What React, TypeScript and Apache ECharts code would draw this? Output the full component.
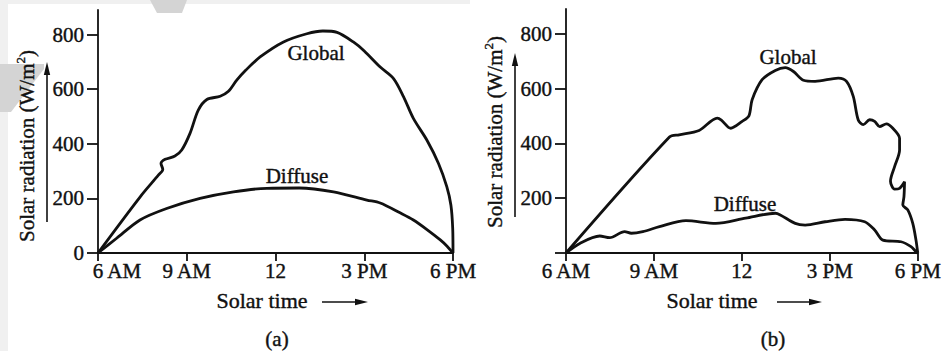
import React, { useEffect, useRef } from "react";
import * as echarts from "echarts";

// ---- data (hours of solar time, W/m²) ----
const tickHours = [6, 9, 12, 15, 18];
const tickLabels = ["6 AM", "9 AM", "12", "3 PM", "6 PM"];
const yTickValues = [0, 200, 400, 600, 800];
const yLabelValuesA = [0, 200, 400, 600, 800];
const yLabelValuesB = [200, 400, 600, 800];

const globalA = [
  [6, 0], [7.42, 205], [8.04, 285], [8.19, 306], [8.13, 328], [8.27, 343], [8.6, 355],
  [8.83, 377], [9.11, 438], [9.39, 523], [9.68, 562], [10.13, 574], [10.41, 592],
  [10.69, 633], [11.0, 670], [11.48, 718], [12.27, 773], [13.06, 803], [13.6, 813],
  [14.08, 808], [14.63, 773], [15.0, 740], [15.54, 681], [15.99, 639], [16.33, 572],
  [16.66, 493], [17.12, 413], [17.51, 328], [17.79, 243], [17.93, 175], [17.99, 90], [18, 0],
];
const diffuseA = [
  [6, 0], [6.63, 54], [7.42, 121], [8.32, 163], [9.45, 200], [10.58, 224], [11.71, 237],
  [12.8, 238], [13.96, 224], [15.09, 194], [15.54, 183], [16.21, 147], [16.66, 121],
  [17.12, 86], [17.57, 48], [17.8, 25], [18, 0],
];
const globalB = [
  [6, 0], [9.53, 423], [9.86, 431], [10.54, 447], [11.16, 492], [11.3, 485], [11.62, 455],
  [12.01, 480], [12.24, 500], [12.35, 559], [12.69, 632], [13.14, 666], [13.48, 676],
  [13.76, 662], [14.1, 630], [14.5, 626], [15.29, 638], [15.57, 626], [15.8, 571],
  [15.97, 485], [16.14, 468], [16.36, 486], [16.53, 480], [16.7, 461], [16.93, 471],
  [17.15, 455], [17.38, 419], [17.38, 376], [17.21, 315], [17.07, 262], [17.21, 233],
  [17.38, 236], [17.55, 260], [17.53, 206], [17.49, 175], [17.66, 157], [17.83, 108],
  [17.94, 47], [18, 0],
];
const diffuseB = [
  [6, 0], [6.47, 35], [7.15, 62], [7.49, 56], [8.0, 78], [8.23, 72], [8.62, 78],
  [9.19, 96], [10.09, 118], [11.11, 108], [12.13, 127], [13.14, 145], [13.31, 139],
  [13.82, 108], [14.16, 102], [14.84, 114], [15.52, 123], [16.19, 114], [16.53, 84],
  [16.81, 47], [17.43, 41], [17.77, 23], [17.94, 5], [18, 0],
];

const FONT = "'Liberation Serif', 'Times New Roman', serif";
const BLACK = "#111";
const INK = { textBorderColor: BLACK, textBorderWidth: 0.4 };

function fmtHour(v: number, shiftFirst: boolean) {
  const i = tickHours.indexOf(v);
  if (i < 0) return "";
  if (shiftFirst && i === 0) return "{first|" + tickLabels[i] + "}";
  return tickLabels[i];
}

function xAxis(gridIndex: number, shiftFirst: boolean) {
  return {
    gridIndex,
    type: "value",
    min: 6,
    max: 18,
    interval: 3,
    axisLine: { show: true, onZero: false, lineStyle: { color: BLACK, width: 1.8 } },
    axisTick: { show: true, length: 8, lineStyle: { color: BLACK, width: 1.8 } },
    axisLabel: {
      formatter: (v: number) => fmtHour(v, shiftFirst),
      color: BLACK,
      fontSize: 21,
      fontFamily: FONT,
      margin: 7,
      showMinLabel: true,
      showMaxLabel: true,
      ...INK,
      rich: {
        first: { fontSize: 21, fontFamily: FONT, color: BLACK, padding: [0, 0, 0, 38], ...INK },
      },
    },
    splitLine: { show: false },
  };
}

function yAxis(gridIndex: number, labels: number[]) {
  return {
    gridIndex,
    type: "value",
    min: 0,
    max: 890,
    axisLine: { show: true, onZero: false, lineStyle: { color: BLACK, width: 1.8 } },
    axisTick: {
      show: true,
      length: 11,
      customValues: yTickValues,
      lineStyle: { color: BLACK, width: 1.8 },
    },
    axisLabel: {
      customValues: labels,
      color: BLACK,
      fontSize: 21,
      fontFamily: FONT,
      margin: 14,
      ...INK,
    },
    splitLine: { show: false },
  };
}

function lineSeries(data: number[][], idx: number) {
  return {
    type: "line",
    xAxisIndex: idx,
    yAxisIndex: idx,
    data,
    showSymbol: false,
    symbol: "none",
    smooth: 0.3,
    clip: false,
    lineStyle: { color: BLACK, width: 2.8 },
  };
}

function text(x: number, y: number, t: string, size = 21) {
  return {
    type: "text",
    x,
    y,
    style: {
      text: t,
      fill: BLACK,
      font: `${size}px ${FONT}`,
      align: "center",
      verticalAlign: "middle",
      stroke: BLACK,
      lineWidth: 0.4,
    },
  };
}

function yName(x: number, y: number) {
  return {
    type: "text",
    x,
    y,
    rotation: Math.PI / 2,
    style: {
      text: "Solar radiation (W/m{sup|2})",
      fill: BLACK,
      font: `21px ${FONT}`,
      fontSize: 21,
      fontFamily: FONT,
      align: "center",
      verticalAlign: "middle",
      lineHeight: 26,
      stroke: BLACK,
      lineWidth: 0.4,
      rich: {
        sup: { fontSize: 13, fontFamily: FONT, fill: BLACK, verticalAlign: "top", lineHeight: 26 },
      },
    },
  };
}

function vArrow(x: number, yBottom: number, yTip: number) {
  return [
    { type: "line", shape: { x1: x, y1: yBottom, x2: x, y2: yTip + 10 }, style: { stroke: BLACK, lineWidth: 1.6 } },
    { type: "polygon", shape: { points: [[x, yTip], [x - 3.2, yTip + 13], [x + 3.2, yTip + 13]] }, style: { fill: BLACK } },
  ];
}

function hArrow(y: number, xStart: number, xTip: number) {
  return [
    { type: "line", shape: { x1: xStart, y1: y, x2: xTip - 8, y2: y }, style: { stroke: BLACK, lineWidth: 1.6 } },
    { type: "polygon", shape: { points: [[xTip, y], [xTip - 13, y - 3.2], [xTip - 13, y + 3.2]] }, style: { fill: BLACK } },
  ];
}

export default function App() {
  const ref = useRef<HTMLDivElement>(null);
  useEffect(() => {
    document.body.style.margin = "0";
    document.body.style.background = "#ffffff";
    const chart = echarts.init(ref.current!, undefined, { renderer: "svg" });
    chart.setOption({
      animation: false,
      backgroundColor: "#ffffff",
      grid: [
        { left: 98, top: 10, width: 355, height: 243 },
        { left: 566, top: 9, width: 354, height: 244 },
      ],
      xAxis: [xAxis(0, true), xAxis(1, false)],
      yAxis: [yAxis(0, yLabelValuesA), yAxis(1, yLabelValuesB)],
      series: [
        lineSeries(globalA, 0),
        lineSeries(diffuseA, 0),
        lineSeries(globalB, 1),
        lineSeries(diffuseB, 1),
      ],
      graphic: [
        // scan artefacts
        { type: "rect", shape: { x: 0, y: 0, width: 8, height: 351 }, style: { fill: "#f0f0f0" }, silent: true },
        { type: "rect", shape: { x: 0, y: 0, width: 470, height: 4 }, style: { fill: "#f0f0f0" }, silent: true },
        { type: "polygon", shape: { points: [[0, 64], [44, 64], [44, 69], [11, 112], [0, 112]] }, style: { fill: "#d4d4d4" }, silent: true },
        { type: "polygon", shape: { points: [[150, 0], [187, 0], [182, 13], [157, 13]] }, style: { fill: "#d4d4d4" }, silent: true },
        // panel (a)
        yName(27, 146),
        ...vArrow(47, 222, 62),
        text(262, 300, "Solar time", 22),
        ...hArrow(302, 322, 368),
        text(277, 339, "(a)"),
        text(316, 53, "Global"),
        text(297, 176, "Diffuse"),
        // panel (b)
        yName(495, 132),
        ...vArrow(515, 217, 53),
        text(712, 300, "Solar time", 22),
        ...hArrow(302, 777, 822),
        text(773, 339, "(b)"),
        text(788, 57, "Global"),
        text(745, 204, "Diffuse"),
      ],
    });
    return () => chart.dispose();
  }, []);
  return <div ref={ref} style={{ width: 944, height: 351 }} />;
}
